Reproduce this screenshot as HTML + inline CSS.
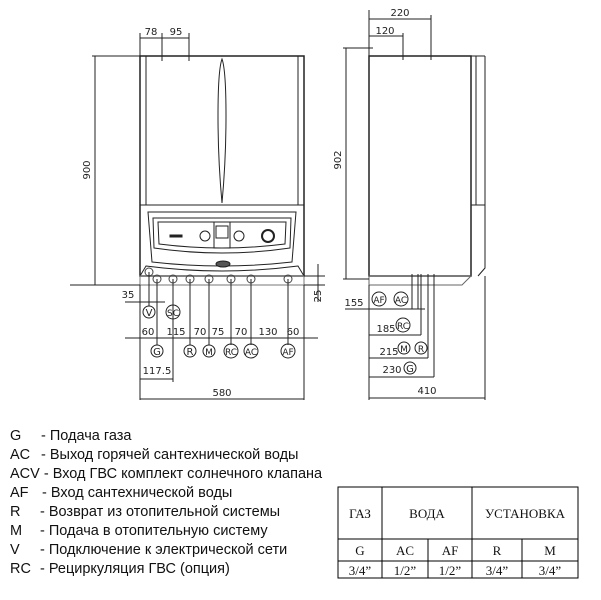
<!DOCTYPE html>
<html><head><meta charset="utf-8"><style>
html,body{margin:0;padding:0;background:#fff;}
svg{display:block;}
.d{font-family:"DejaVu Sans","Liberation Sans",sans-serif;font-size:10px;fill:#222;}
.l{font-family:"Liberation Sans","DejaVu Sans",sans-serif;font-size:14.5px;fill:#111;}
.t{font-family:"Liberation Serif","DejaVu Serif",serif;font-size:13px;fill:#111;}
</style></head><body>
<svg width="601" height="600" viewBox="0 0 601 600" xmlns="http://www.w3.org/2000/svg">
<g stroke="#222" fill="none" stroke-width="1">
<rect x="140" y="56" width="164" height="220" stroke-width="1.5"/>
<line x1="146" y1="56" x2="146" y2="205"/>
<line x1="298" y1="56" x2="298" y2="205"/>
<line x1="140" y1="205" x2="304" y2="205"/>
<path d="M222,59 Q226,70 226,116 Q226,160 222,203 Q218,160 218,116 Q218,70 222,59Z"/>
<path d="M148,212 L296,212 L292,262 Q222,270 152,262 Z"/>
<path d="M153,218 L291,218 L290,248 Q222,258 154,248 Z"/>
<path d="M158,222 L286,222 L285,244 Q222,252 159,244 Z"/>
<rect x="214" y="222" width="16" height="26"/>
<rect x="216" y="226" width="12" height="12"/>
<circle cx="205" cy="236" r="5"/><circle cx="239" cy="236" r="5"/>
<circle cx="268" cy="236" r="6" stroke-width="2"/>
<rect x="170" y="235" width="12" height="2" fill="#222"/>
<ellipse cx="223" cy="264" rx="7" ry="3" fill="#555"/>
<path d="M146,266 Q222,276 298,266 L304,276 L140,276 Z"/>
<rect x="140" y="276" width="164" height="9" stroke="#777"/>
<g stroke="#444">
<circle cx="149" cy="272" r="4"/><circle cx="157" cy="279" r="4"/><circle cx="173" cy="279" r="4"/><circle cx="190" cy="279" r="4"/><circle cx="209" cy="279" r="4"/><circle cx="231" cy="279" r="4"/><circle cx="251" cy="279" r="4"/><circle cx="288" cy="279" r="4"/>
</g>
<line x1="140" y1="33" x2="140" y2="56"/><line x1="162" y1="33" x2="162" y2="61"/><line x1="189" y1="33" x2="189" y2="61"/>
<line x1="140" y1="38" x2="189" y2="38"/>
<line x1="92" y1="56" x2="140" y2="56"/>
<line x1="95" y1="56" x2="95" y2="285"/>
<line x1="70" y1="285" x2="140" y2="285"/>
<line x1="125" y1="338" x2="318" y2="338"/>
<line x1="140" y1="285" x2="140" y2="400"/><line x1="304" y1="285" x2="304" y2="400"/>
<line x1="157" y1="279" x2="157" y2="345"/><line x1="173" y1="279" x2="173" y2="382"/>
<line x1="190" y1="279" x2="190" y2="345"/><line x1="209" y1="279" x2="209" y2="345"/>
<line x1="231" y1="279" x2="231" y2="345"/><line x1="251" y1="279" x2="251" y2="345"/>
<line x1="288" y1="279" x2="288" y2="345"/><line x1="149" y1="272" x2="149" y2="306"/>
<line x1="125" y1="302" x2="165" y2="302"/>
<line x1="140" y1="379" x2="173" y2="379"/>
<line x1="140" y1="399" x2="304" y2="399"/>
<line x1="304" y1="276" x2="325" y2="276"/><line x1="304" y1="285" x2="325" y2="285"/>
<line x1="318" y1="264" x2="318" y2="302"/>
<g>
<circle cx="149" cy="312" r="6"/><circle cx="173" cy="312" r="7"/>
<circle cx="157" cy="351" r="6"/><circle cx="190" cy="351" r="6"/><circle cx="209" cy="351" r="6"/>
<circle cx="231" cy="351" r="7"/><circle cx="251" cy="351" r="7"/><circle cx="288" cy="351" r="7"/>
</g>
<rect x="369" y="56" width="102" height="220" stroke-width="1.5"/>
<line x1="476" y1="56" x2="476" y2="205"/><line x1="485" y1="56" x2="485" y2="205"/>
<line x1="471" y1="56" x2="485" y2="56"/><line x1="471" y1="205" x2="485" y2="205"/>
<path d="M485,205 L485,268 L478,276"/>
<path d="M369,276 L471,276 L462,285 L369,285 Z" stroke="#666"/>
<line x1="369" y1="10" x2="369" y2="56"/><line x1="431" y1="15" x2="431" y2="60"/><line x1="403" y1="33" x2="403" y2="60"/>
<line x1="369" y1="19" x2="431" y2="19"/><line x1="369" y1="36" x2="403" y2="36"/>
<line x1="343" y1="48" x2="373" y2="48"/><line x1="346" y1="48" x2="346" y2="279"/><line x1="343" y1="279" x2="369" y2="279"/>
<line x1="369" y1="285" x2="369" y2="400"/><line x1="485" y1="276" x2="485" y2="400"/>
<line x1="412" y1="274" x2="412" y2="309"/><line x1="418" y1="274" x2="418" y2="309"/><line x1="421" y1="274" x2="421" y2="335"/><line x1="428" y1="274" x2="428" y2="358"/><line x1="434" y1="274" x2="434" y2="377"/>
<line x1="345" y1="309" x2="425" y2="309"/>
<line x1="369" y1="335" x2="421" y2="335"/><line x1="369" y1="358" x2="428" y2="358"/><line x1="369" y1="377" x2="434" y2="377"/>
<line x1="369" y1="398" x2="485" y2="398"/>
<circle cx="379" cy="299" r="7"/><circle cx="401" cy="299" r="7"/><circle cx="403" cy="325" r="7"/>
<circle cx="404" cy="348" r="6"/><circle cx="421" cy="348" r="6"/><circle cx="410" cy="368" r="6"/>
<rect x="338" y="487" width="240" height="91" stroke="#000"/>
<line x1="338" y1="539" x2="578" y2="539" stroke="#000"/><line x1="338" y1="561" x2="578" y2="561" stroke="#000"/>
<line x1="382" y1="487" x2="382" y2="578" stroke="#000"/><line x1="472" y1="487" x2="472" y2="578" stroke="#000"/>
<line x1="428" y1="539" x2="428" y2="578" stroke="#000"/><line x1="522" y1="539" x2="522" y2="578" stroke="#000"/>
</g>
<g class="d" text-anchor="middle">
<text x="151" y="35">78</text><text x="176" y="35">95</text>
<text x="90" y="170" transform="rotate(-90 90 170)">900</text>
<text x="128" y="298">35</text>
<text x="148" y="335">60</text><text x="176" y="335">115</text><text x="200" y="335">70</text><text x="218" y="335">75</text><text x="241" y="335">70</text><text x="268" y="335">130</text><text x="293" y="335">60</text>
<text x="149" y="316">V</text><text x="173" y="316" font-size="9">SC</text>
<text x="157" y="355">G</text><text x="190" y="355">R</text><text x="209" y="355" font-size="9">M</text><text x="231" y="355" font-size="9">RC</text><text x="251" y="355" font-size="9">AC</text><text x="288" y="355" font-size="9">AF</text>
<text x="157" y="374">117.5</text>
<text x="222" y="396">580</text>
<text x="321" y="296" transform="rotate(-90 321 296)">25</text>
<text x="400" y="16">220</text><text x="385" y="34">120</text>
<text x="341" y="160" transform="rotate(-90 341 160)">902</text>
<text x="354" y="306">155</text>
<text x="379" y="303" font-size="9">AF</text><text x="401" y="303" font-size="9">AC</text><text x="403" y="329" font-size="9">RC</text>
<text x="386" y="332">185</text>
<text x="389" y="355">215</text><text x="404" y="352" font-size="9">M</text><text x="421" y="352" font-size="9">R</text>
<text x="392" y="373">230</text><text x="410" y="372">G</text>
<text x="427" y="394">410</text>
</g>
<g class="l">
<text x="10" y="440">G</text><text x="41" y="440">- Подача газа</text>
<text x="10" y="459">AC</text><text x="41" y="459">- Выход горячей сантехнической воды</text>
<text x="10" y="478">ACV - Вход ГВС комплект солнечного клапана</text>
<text x="10" y="497">AF</text><text x="42" y="497">- Вход сантехнической воды</text>
<text x="10" y="516">R</text><text x="40" y="516">- Возврат из отопительной системы</text>
<text x="10" y="535">M</text><text x="40" y="535">- Подача в отопительную систему</text>
<text x="10" y="554">V</text><text x="40" y="554">- Подключение к электрической сети</text>
<text x="10" y="573">RC</text><text x="40" y="573">- Рециркуляция ГВС (опция)</text>
</g>
<g class="t" text-anchor="middle">
<text x="360" y="518">ГАЗ</text><text x="427" y="518">ВОДА</text><text x="525" y="518">УСТАНОВКА</text>
<text x="360" y="555">G</text><text x="405" y="555">AC</text><text x="450" y="555">AF</text><text x="497" y="555">R</text><text x="550" y="555">M</text>
<text x="360" y="575">3/4”</text><text x="405" y="575">1/2”</text><text x="450" y="575">1/2”</text><text x="497" y="575">3/4”</text><text x="550" y="575">3/4”</text>
</g>
</svg>
</body></html>
